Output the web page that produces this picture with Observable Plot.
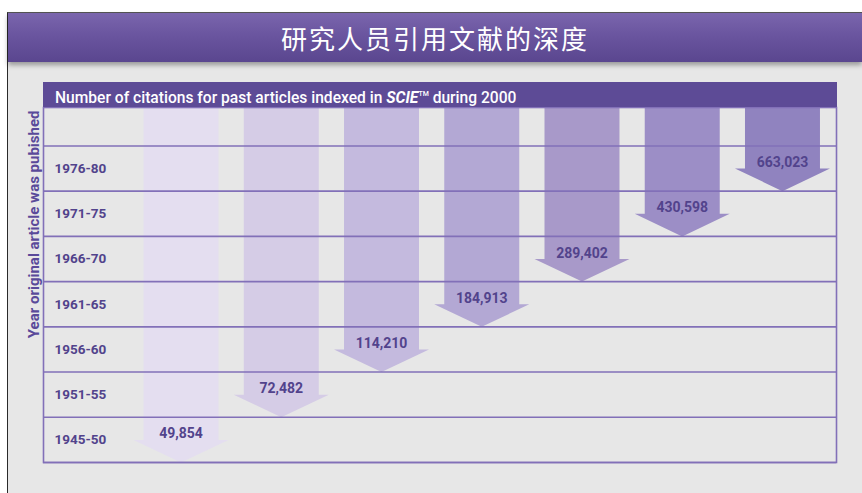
<!DOCTYPE html>
<html>
<head>
<meta charset="utf-8">
<script src="https://cdn.jsdelivr.net/npm/d3@7"></script>
<script src="https://cdn.jsdelivr.net/npm/@observablehq/plot@0.6"></script>
<style>
  html, body { margin: 0; padding: 0; background: #ffffff; }
  #wrap { position: relative; width: 862px; height: 493px; overflow: hidden; }
  #panel { position: absolute; left: 7px; top: 12px; right: 0; bottom: 0; background: #e7e7e7;
           border-left: 1.5px solid #2a2a2a; border-top: 1px solid #555; }
  #titlebar { position: absolute; left: 8px; top: 13px; right: 0; height: 49px;
              background: linear-gradient(#7a65ad, #6a559f 45%, #5a468f);
              box-shadow: 0 3px 5px rgba(0,0,0,0.35); z-index: 3;
              color: #fff; text-align: center; line-height: 49px;
              font-family: "Noto Sans CJK SC", sans-serif; font-size: 26px; letter-spacing: 2px; }
  #chart { position: absolute; left: 0; top: 0; z-index: 1; }
  #header { position: absolute; left: 43px; top: 82px; width: 794px; height: 25px; background: #5d4b96;
            z-index: 2; color: #fff; font-family: Roboto, sans-serif; font-weight: 500;
            font-size: 15.6px; line-height: 25px; padding-left: 12px; box-sizing: border-box; }
  #header sup { font-size: 7px; vertical-align: 7px; }
</style>
</head>
<body>
<div id="wrap">
  <div id="panel"></div>
  <div id="titlebar"></div>
  <div id="chart"></div>
  <div id="header"></div>
</div>
<script>
// ---- data ----
const title = "研究人员引用文献的深度";
const headerBefore = "Number of citations for past articles indexed in ";
const headerIndex = "SCIE";
const headerAfter = " during 2000";
const yLabel = "Year original article was pubished";
const periods = ["1976-80", "1971-75", "1966-70", "1961-65", "1956-60", "1951-55", "1945-50"]; // rows, top to bottom
const citations = [663023, 430598, 289402, 184913, 114210, 72482, 49854];

document.getElementById("titlebar").textContent = title;
const hdr = document.getElementById("header");
hdr.append(headerBefore);
const b = document.createElement("b"); b.style.fontStyle = "italic"; b.textContent = headerIndex; hdr.append(b);
const s = document.createElement("sup"); s.textContent = "TM"; hdr.append(s);
hdr.append(headerAfter);

const n = periods.length;
const rows = periods.map((p, i) => ({period: p, value: citations[i], row: i, col: n - 1 - i}));

// arrow geometry in data units (columns / rows)
const SHAFT = 0.374, HEADW = 0.474, HEADH = 0.5, TOP = -0.85;
const poly = rows.flatMap(d => {
  const base = d.row + 1 - HEADH;
  return [
    [d.col - SHAFT, TOP], [d.col + SHAFT, TOP], [d.col + SHAFT, base], [d.col + HEADW, base],
    [d.col, d.row + 1], [d.col - HEADW, base], [d.col - SHAFT, base]
  ].map(([x, y]) => ({period: d.period, x, y}));
});

const fmt = d3.format(",");
const font = "Roboto, sans-serif";
const textColor = "#52438c";

const chart = Plot.plot({
  width: 862,
  height: 493,
  marginLeft: 43,
  marginRight: 26,
  marginTop: 107,
  marginBottom: 31,
  style: {background: "transparent", overflow: "visible"},
  x: {domain: [-1.372, 6.539], axis: null},
  y: {domain: [TOP, n], reverse: true, axis: null},
  color: {type: "ordinal", domain: periods,
          range: ["#9083bf", "#9c8ec6", "#a899c9", "#b3a8d4", "#c4bade", "#d5cce6", "#e4def0"]},
  marks: [
    Plot.line(poly, {x: "x", y: "y", z: "period", fill: "period", stroke: "none", curve: "linear"}),
    Plot.ruleY(d3.range(0, n + 1), {stroke: "#8270b8", strokeWidth: 1.6}),
    Plot.frame({stroke: "#8270b8", strokeWidth: 1.6}),
    Plot.text(rows, {y: d => d.row + 0.5, text: "period", frameAnchor: "left", dx: 11, textAnchor: "start",
                     fill: textColor, fontSize: 13.5, fontWeight: "bold", fontFamily: font}),
    Plot.text(rows, {x: "col", y: d => d.row + 0.37, text: d => fmt(d.value),
                     fill: textColor, fontSize: 14, fontWeight: "bold", fontFamily: font}),
    Plot.text([yLabel], {frameAnchor: "top-left", rotate: -90, textAnchor: "end", dx: -15, dy: 3,
                         fill: "#5a4a9a", fontSize: 15, fontWeight: "bold", fontFamily: font})
  ]
});
document.getElementById("chart").append(chart);
</script>
</body>
</html>
